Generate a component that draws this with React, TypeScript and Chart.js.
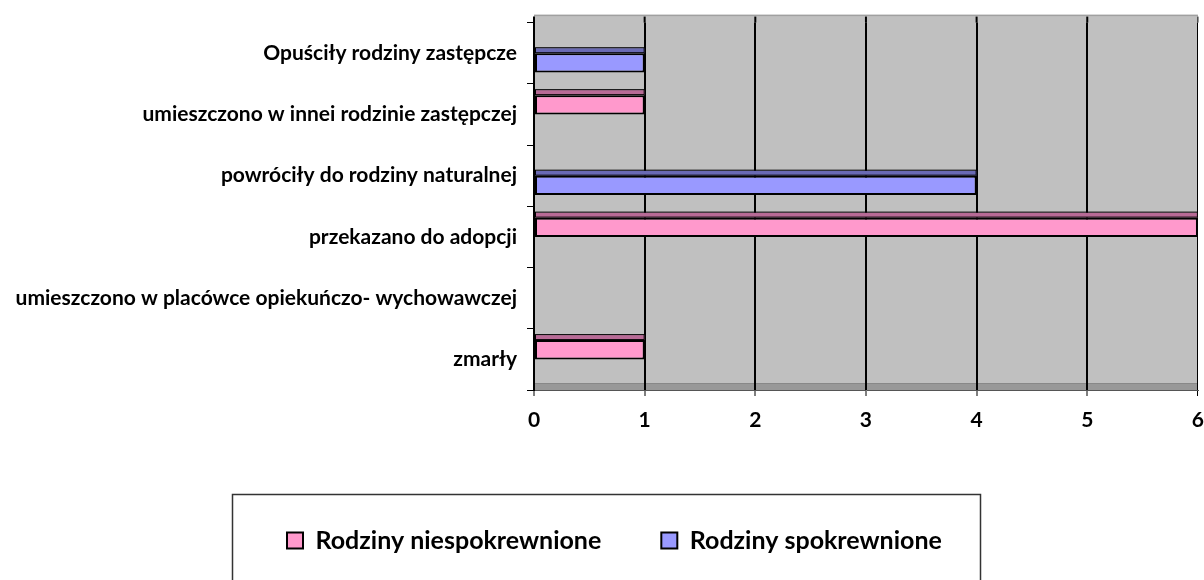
import React, { useEffect, useRef } from "react";
import { Chart, registerables } from "chart.js";

Chart.register(...registerables);

const categories = [
  "Opuściły rodziny zastępcze",
  "umieszczono w innei rodzinie zastępczej",
  "powróciły do rodziny naturalnej",
  "przekazano do adopcji",
  "umieszczono w placówce opiekuńczo- wychowawczej",
  "zmarły",
];
const seriesLabels = ["Rodziny niespokrewnione", "Rodziny spokrewnione"];
const niespokrewnione = [0, 1, 0, 6, 0, 1];
const spokrewnione = [1, 0, 4, 0, 0, 0];
const xTicks = [0, 1, 2, 3, 4, 5, 6];

const FONT = "Lato";
const frontColors = ["#FF99CC", "#9999FF"];
const topColors = ["#B86A96", "#6A6AB4"];

const decorPlugin = {
  id: "decor",
  afterLayout(chart: any) {
    if (chart.legend) {
      chart.legend.left = 227;
    }
  },
  beforeDraw(chart: any) {
    const { ctx, chartArea: a, scales } = chart;
    const depth = 7;
    ctx.save();
    // back wall
    ctx.fillStyle = "#C0C0C0";
    ctx.fillRect(a.left, a.top - depth, a.right - a.left, a.bottom - a.top + depth);
    ctx.fillStyle = "#A0A0A0";
    ctx.fillRect(a.left, a.top - depth - 1, a.right - a.left, 1.5);
    // floor
    ctx.fillStyle = "#989898";
    ctx.fillRect(a.left, a.bottom - depth, a.right - a.left, depth);
    ctx.fillStyle = "#888888";
    ctx.fillRect(a.left, a.bottom - depth, a.right - a.left, 1);
    // gridline stubs above the chart area (back wall top)
    ctx.strokeStyle = "#000";
    xTicks.forEach((v, i) => {
      const px = scales.x.getPixelForValue(v);
      ctx.lineWidth = i === xTicks.length - 1 ? 1 : 2;
      ctx.beginPath();
      ctx.moveTo(px, a.top - depth + 1);
      ctx.lineTo(px, a.top);
      ctx.stroke();
    });
    ctx.restore();
  },
  beforeDatasetsDraw(chart: any) {
    const { ctx } = chart;
    ctx.save();
    chart.data.datasets.forEach((_ds: any, i: number) => {
      const meta = chart.getDatasetMeta(i);
      meta.data.forEach((el: any) => {
        const p = el.getProps(["x", "y", "base", "height"], true);
        const w = Math.abs(p.x - p.base);
        if (w < 0.5) return;
        const left = Math.min(p.x, p.base);
        const top = p.y - p.height / 2;
        ctx.fillStyle = topColors[i];
        ctx.fillRect(left, top - 5, w, 5);
        ctx.strokeStyle = "#000";
        ctx.lineWidth = 1;
        ctx.strokeRect(left + 0.5, top - 5.5, w - 1, 5);
      });
    });
    ctx.restore();
  },
  afterDraw(chart: any) {
    const { ctx } = chart;
    ctx.save();
    ctx.strokeStyle = "#333";
    ctx.lineWidth = 1.5;
    ctx.strokeRect(232.5, 494.5, 748, 200);
    ctx.restore();
  },
};

export default function App() {
  const ref = useRef<HTMLCanvasElement | null>(null);

  useEffect(() => {
    document.body.style.margin = "0";
    const canvas = ref.current;
    if (!canvas) return;
    const chart = new Chart(canvas, {
      type: "bar",
      data: {
        labels: categories,
        datasets: [
          {
            label: seriesLabels[0],
            data: niespokrewnione,
            backgroundColor: frontColors[0],
            borderColor: "#000",
            borderWidth: 2,
            borderSkipped: false,
          },
          {
            label: seriesLabels[1],
            data: spokrewnione,
            backgroundColor: frontColors[1],
            borderColor: "#000",
            borderWidth: 2,
            borderSkipped: false,
          },
        ],
      },
      options: {
        indexAxis: "y",
        responsive: false,
        animation: false,
        datasets: {
          bar: { categoryPercentage: 0.63, barPercentage: 1 },
        },
        layout: { padding: { left: 0, right: 6, top: 18, bottom: 17 } },
        scales: {
          x: {
            type: "linear",
            min: 0,
            max: 6,
            ticks: {
              stepSize: 1,
              color: "#000",
              padding: 0,
              font: { family: FONT, size: 21, weight: "bold", lineHeight: 2.3 },
            },
            grid: {
              color: "#000",
              lineWidth: (c: any) => (c.index === 6 ? 1 : 2),
              tickLength: 6,
              tickColor: "#000",
              tickWidth: 1,
            },
            border: { display: true, color: "#555", width: 1 },
            afterFit: (s: any) => {
              s.height = 78;
            },
          },
          y: {
            type: "category",
            ticks: {
              color: "#000",
              padding: 10,
              font: { family: FONT, size: 21, weight: "bold" },
            },
            grid: {
              offset: true,
              drawOnChartArea: false,
              tickLength: 7,
              color: "#000",
              lineWidth: 1,
            },
            border: { display: true, color: "#000", width: 2 },
            afterFit: (s: any) => {
              s.width = 534;
            },
          },
        },
        plugins: {
          legend: {
            display: true,
            position: "bottom",
            align: "start",
            labels: {
              color: "#000",
              boxWidth: 16,
              boxHeight: 16,
              padding: 60,
              font: { family: FONT, size: 25, weight: "bold" },
            },
          },
          tooltip: { enabled: false },
        },
      },
      plugins: [decorPlugin],
    } as any);
    return () => chart.destroy();
  }, []);

  return (
    <div style={{ position: "absolute", left: 0, top: 0, width: 1204, height: 580 }}>
      <canvas ref={ref} width={1204} height={580} />
    </div>
  );
}
